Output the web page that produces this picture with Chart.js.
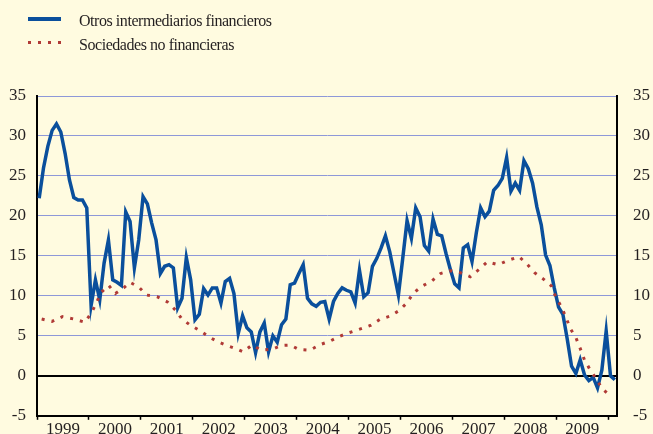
<!DOCTYPE html>
<html lang="es">
<head>
    <meta charset="UTF-8">
    <title>Otros intermediarios financieros y sociedades no financieras</title>
    <script src="https://cdn.jsdelivr.net/npm/chart.js"></script>
    <style>
        body { margin: 0; background: #fffbe0; overflow: hidden; }
        #contenedor { position: relative; width: 653px; height: 434px; overflow: hidden; }
        #grafico { position: absolute; left: 0; top: 0; }
        .leyenda { position: absolute; left: 0; top: 0; font-family: "Liberation Serif", "Times New Roman", serif;
                   font-size: 16px; line-height: 16px; color: #231f20; letter-spacing: -0.45px; }
        .item { position: absolute; left: 79px; white-space: nowrap; }
        .muestra { position: absolute; left: 28px; width: 33px; }
        .azul { top: 17px; height: 3.5px; background: #0a4f9c; }
        .rojo { top: 41px; height: 3px; background: repeating-linear-gradient(to right, #b03a36 0 3px, transparent 3px 10px); }
    </style>
</head>
<body>
<div id="contenedor">
    <!-- el lienzo es algo más alto que la ventana: las etiquetas de años quedan cortadas como en el original -->
    <canvas id="grafico" width="653" height="442"></canvas>
    <div class="leyenda">
        <div class="muestra azul"></div>
        <div class="item" style="top:13px">Otros intermediarios financieros</div>
        <div class="muestra rojo"></div>
        <div class="item" style="top:37px">Sociedades no financieras</div>
    </div>
</div>

<script>
    // Tasa de variación interanual (%), datos mensuales ene-1999 a feb-2010
    const otrosIntermediarios = [
        22.2, 26.0, 28.7, 30.7, 31.5, 30.5, 27.8, 24.5, 22.3, 22.0, 22.0, 21.0,   // 1999
        8.8, 12.0, 9.5, 14.1, 17.0, 12.0, 11.7, 11.3, 20.5, 19.3, 13.5, 17.0,     // 2000
        22.4, 21.5, 19.1, 17.0, 12.8, 13.7, 13.9, 13.5, 8.5, 9.7, 14.8, 12.0,     // 2001
        7.0, 7.7, 10.9, 10.1, 11.0, 11.0, 9.1, 11.8, 12.2, 10.3, 5.3, 7.5,        // 2002
        6.0, 5.5, 2.9, 5.5, 6.6, 3.0, 5.0, 4.2, 6.4, 7.1, 11.4, 11.6,             // 2003
        12.8, 13.9, 9.7, 9.0, 8.7, 9.2, 9.3, 7.1, 9.3, 10.3, 11.0, 10.7,          // 2004
        10.5, 9.1, 13.2, 9.9, 10.4, 13.7, 14.7, 16.0, 17.5, 15.5, 12.8, 10.1,     // 2005
        14.7, 19.4, 17.2, 21.0, 19.9, 16.3, 15.6, 19.6, 17.7, 17.5, 15.3, 13.3,   // 2006
        11.5, 11.0, 16.0, 16.4, 14.3, 17.9, 21.0, 19.9, 20.6, 23.2, 23.8, 24.7,   // 2007
        27.3, 23.1, 24.1, 23.2, 26.9, 25.9, 24.1, 21.1, 18.9, 15.1, 13.8, 11.0,   // 2008
        8.6, 7.7, 4.6, 1.2, 0.3, 2.0, 0.1, -0.6, -0.2, -1.5, 0.7, 5.6,            // 2009
        0.0, -0.5                                                                  // 2010
    ];

    // Sociedades no financieras (fecha en años decimales y valor)
    const sociedadesFecha = [
        1999.09, 1999.29, 1999.49, 1999.71, 1999.92, 2000.05, 2000.15, 2000.23, 2000.38, 2000.51,
        2000.67, 2000.79, 2000.96, 2001.11, 2001.31, 2001.51, 2001.67, 2001.79, 2001.96, 2002.15,
        2002.33, 2002.47, 2002.65, 2002.83, 2002.97, 2003.14, 2003.32, 2003.54, 2003.71, 2003.88,
        2004.04, 2004.25, 2004.45, 2004.63, 2004.81, 2005.01, 2005.20, 2005.42, 2005.60, 2005.79,
        2005.97, 2006.12, 2006.24, 2006.41, 2006.60, 2006.77, 2006.96, 2007.15, 2007.34, 2007.51,
        2007.67, 2007.88, 2008.07, 2008.28, 2008.43, 2008.58, 2008.75, 2008.91, 2008.99, 2009.10,
        2009.19, 2009.27, 2009.38, 2009.46, 2009.54, 2009.65, 2009.77, 2009.88, 2010.05
    ];
    const sociedadesValor = [
        7.1, 6.8, 7.4, 7.1, 6.7, 7.9, 9.2, 10.4, 11.3, 10.3,
        11.0, 11.7, 11.1, 10.1, 9.9, 9.25, 8.2, 7.1, 6.3, 5.6,
        4.8, 4.3, 3.8, 3.4, 3.0, 3.85, 3.2, 3.35, 3.8, 3.85,
        3.3, 3.2, 3.9, 4.3, 4.9, 5.4, 5.8, 6.3, 7.05, 7.45,
        8.15, 9.1, 10.3, 11.2, 11.85, 12.8, 13.15, 12.9, 12.4, 13.3,
        14.25, 13.9, 14.45, 14.9, 14.0, 12.9, 12.1, 11.2, 9.8, 8.6,
        7.2, 5.9, 4.7, 3.4, 2.0, 0.75, -0.4, -1.6, -2.6
    ];

    const anios = [1999, 2000, 2001, 2002, 2003, 2004, 2005, 2006, 2007, 2008, 2009, 2010];
    const valoresY = [-5, 0, 5, 10, 15, 20, 25, 30, 35];

    // posición de cada mes en el eje (centro del mes)
    const meses = otrosIntermediarios.map((v, i) => 1999 + (i + 0.5) / 12);

    const azul = '#0a4f9c';
    const rojo = '#b03a36';
    const texto = '#231f20';
    const fuente = { family: '"Liberation Serif", "Times New Roman", serif', size: 17 };

    // marcas en cada año y etiqueta en mitad de año
    const marcasX = [];
    anios.forEach(a => {
        marcasX.push(a);
        if (a < anios[anios.length - 1]) marcasX.push(a + 0.5);
    });

    const ctx = document.getElementById('grafico').getContext('2d');
    new Chart(ctx, {
        type: 'line',
        data: {
            datasets: [
                {
                    label: 'Otros intermediarios financieros',
                    data: otrosIntermediarios.map((v, i) => ({ x: meses[i], y: v })),
                    borderColor: azul,
                    borderWidth: 3.5,
                    pointRadius: 0,
                    tension: 0,
                    order: 1
                },
                {
                    label: 'Sociedades no financieras',
                    data: sociedadesValor.map((v, i) => ({ x: sociedadesFecha[i], y: v })),
                    borderColor: rojo,
                    borderWidth: 3,
                    borderDash: [3, 7],
                    borderCapStyle: 'butt',
                    pointRadius: 0,
                    tension: 0,
                    order: 0
                }
            ]
        },
        options: {
            responsive: false,
            animation: false,
            layout: { padding: { top: 96, left: 0, right: 0, bottom: 0 } },
            plugins: { legend: { display: false }, tooltip: { enabled: false } },
            scales: {
                x: {
                    type: 'linear',
                    min: 1999,
                    max: 1999 + otrosIntermediarios.length / 12,
                    afterBuildTicks: eje => { eje.ticks = marcasX.map(v => ({ value: v })); },
                    grid: {
                        drawOnChartArea: false,
                        tickLength: 4,
                        tickWidth: 1.5,
                        tickColor: c => (c.tick && Number.isInteger(c.tick.value)) ? '#000' : 'rgba(0,0,0,0)'
                    },
                    border: { color: '#000', width: 2 },
                    ticks: {
                        autoSkip: false,
                        maxRotation: 0,
                        padding: 0,
                        color: texto,
                        font: fuente,
                        callback: v => (v % 1 === 0.5 ? String(Math.floor(v)) : '')
                    }
                },
                y: {
                    position: 'left',
                    min: -5,
                    max: 35,
                    afterBuildTicks: eje => { eje.ticks = valoresY.map(v => ({ value: v })); },
                    afterFit: eje => { eje.width = 37; },
                    grid: {
                        drawTicks: false,
                        color: c => (c.tick && (c.tick.value === 0 || c.tick.value === -5)) ? '#000' : '#8e98d8',
                        lineWidth: c => (c.tick && c.tick.value === 0) ? 2 : 1
                    },
                    border: { color: '#000', width: 2 },
                    ticks: { padding: 11, color: texto, font: fuente }
                },
                y2: {
                    position: 'right',
                    min: -5,
                    max: 35,
                    afterBuildTicks: eje => { eje.ticks = valoresY.map(v => ({ value: v })); },
                    afterFit: eje => { eje.width = 36; },
                    grid: { drawOnChartArea: false, drawTicks: false },
                    border: { color: '#000', width: 2 },
                    ticks: { padding: 16, color: texto, font: fuente }
                }
            }
        }
    });
</script>
</body>
</html>
